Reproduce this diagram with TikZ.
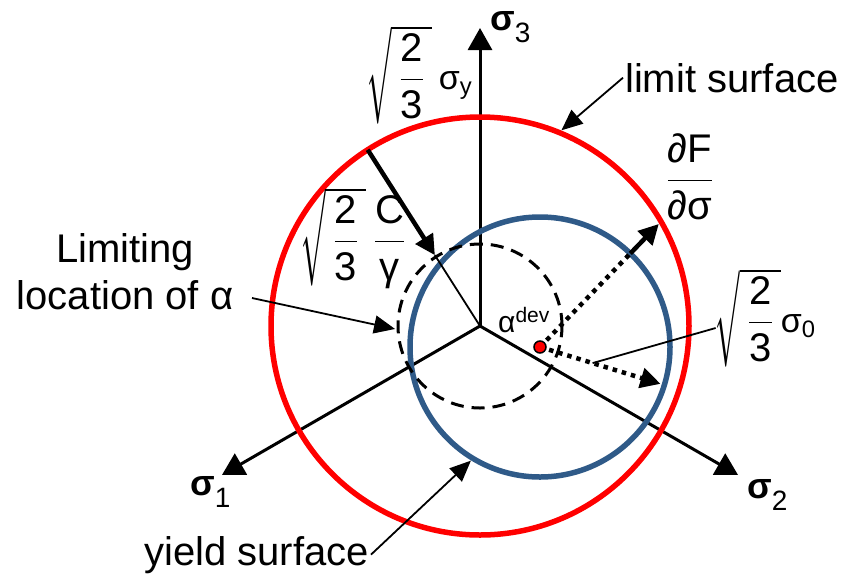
\documentclass[tikz,border=0pt]{standalone}
\usepackage{amsmath}
\usepackage{graphicx}
\usepackage{fontspec}
\setmainfont{Liberation Sans}
\usetikzlibrary{arrows.meta,calc}
\definecolor{limred}{HTML}{FF0000}
\definecolor{yldblue}{HTML}{2F5A88}
\newcommand{\bigtxt}{\fontsize{40}{47}\selectfont}
\newcommand{\smtxt}{\fontsize{30}{30}\selectfont}
\newcommand{\tx}[1]{\text{#1}}
\newcommand{\sig}[1]{\textbf{σ}\raisebox{-12pt}{\fontsize{28}{28}\selectfont\mdseries #1}}
\newcommand{\rtt}{\raisebox{29pt}{\scalebox{0.7}[2.33]{$\mathchar"0270$}}$\overline{\,\dfrac{\tx{2}}{\tx{3}}\,}$}
\newcommand{\fml}[1]{\scalebox{2}{\fontsize{20}{24}\selectfont #1}}
\newcommand{\gsm}{\fontsize{17}{17}\selectfont}

\begin{document}
\begin{tikzpicture}[x=1pt, y=-1pt,
  lbl/.style={font=\bigtxt, inner sep=2pt},
  axlbl/.style={font=\fontsize{36}{40}\selectfont, anchor=base west, inner sep=0},
  axisarr/.style={line width=3pt, -{Triangle[length=22pt, width=24pt]}},
  ptr/.style={line width=1.8pt, -{Triangle[length=21pt, width=18pt]}},
  thickarr/.style={line width=4.5pt, -{Triangle[length=20pt, width=20pt]}},
  dotline/.style={line width=4.5pt, dash pattern=on 4.5pt off 5pt},
  thinline/.style={line width=1.8pt}]
  \useasboundingbox (0,0) rectangle (846,582);
  \coordinate (O) at (480,326);
  \coordinate (A) at (540,347);
  % principal stress axes
  \coordinate (s1) at ($(O)+(150:298)$);
  \coordinate (s2) at ($(O)+(30:298)$);
  \coordinate (s3) at ($(O)+(270:298)$);
  \draw[axisarr] (O) -- (s1);
  \draw[axisarr] (O) -- (s2);
  \draw[axisarr] (O) -- (s3);
  \node[axlbl] (l1) at (190,495) {\sig{1}};
  \node[axlbl] (l2) at (747,498) {\sig{2}};
  \node[axlbl] (l3) at (490,30) {\sig{3}};
  % surfaces
  \draw[limred, line width=5.5pt] (O) circle[radius=209pt];
  \draw[yldblue, line width=5.5pt] (A) circle[radius=130pt];
  \draw[line width=3pt, dash pattern=on 13pt off 8pt] (O) circle[radius=82pt];
  % C/gamma radius
  \coordinate (cg0) at ($(O)+(237.5:209)$);
  \coordinate (cg1) at ($(O)+(237.5:84)$);
  \draw[thinline] (O) -- (cg1);
  \draw[thickarr] (cg0) -- (cg1);
  % normal and yield radius
  \coordinate (dfb) at ($(A)+(314:130)$);
  \coordinate (dft) at ($(A)+(314:171)$);
  \coordinate (s0tip) at ($(A)+(17:126)$);
  \coordinate (s0foot) at ($(A)+(17:55)$);
  \draw[dotline] (A) -- (dfb);
  \draw[thickarr] (dfb) -- (dft);
  \draw[dotline, -{Triangle[length=20pt, width=20pt]}] (A) -- (s0tip);
  \node[circle, fill=limred, draw=black, line width=1.5pt, minimum size=12pt, inner sep=0] (adev) at (A) {};
  % labels
  \node[inner sep=0] (sy) at (420,75) {\fml{\rtt\,{\gsm σ\textsubscript{y}}}};
  \node[inner sep=0] (cg) at (354,238) {\fml{\rtt\,$\dfrac{\tx{C}}{\tx{γ}}$}};
  \node[inner sep=0] (dfds) at (690,177) {\fml{$\dfrac{\tx{∂F}}{\tx{∂σ}}$}};
  \node[inner sep=0] (s0) at (766,318) {\fml{\rtt{\gsm σ\textsubscript{0}}}};
  \node[anchor=base west, inner sep=0] (al) at (498,332) {\smtxt α\textsuperscript{dev}};
  \node[lbl, anchor=base west] (lim) at (623,92) {limit surface};
  \node[lbl, anchor=base west] (yld) at (142,565) {yield surface};
  \node[lbl, align=center] (loc) at (125,272) {Limiting\\location of α};
  \coordinate (limtip) at ($(O)+(292.6:212)$);
  \coordinate (yldtip) at ($(A)+(121.3:133)$);
  \coordinate (locA) at (252,298);
  \coordinate (loctip) at ($(O)+(178:85)$);
  \draw[ptr] (lim.west) -- (limtip);
  \draw[ptr] (yld.east) -- (yldtip);
  \draw[ptr] (locA) -- (loctip);
  \draw[thinline] ([yshift=-10pt]s0.west) -- (s0foot);
\end{tikzpicture}
\end{document}
